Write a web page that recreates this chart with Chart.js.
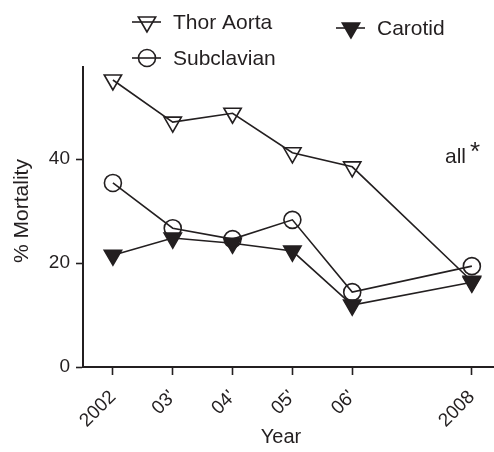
<!DOCTYPE html>
<html>
<head>
<meta charset="utf-8">
<script src="https://cdn.jsdelivr.net/npm/chart.js@4/dist/chart.umd.min.js"></script>
<style>
  html, body { margin: 0; padding: 0; background: #fff; }
  #chart { display: block; }
</style>
</head>
<body>
<canvas id="chart" width="494" height="452"></canvas>
<script>
// -------------------------------
// Data
// -------------------------------
const years = [2002, 2003, 2004, 2005, 2006, 2008];
const yearLabels = ["2002", "03'", "04'", "05'", "06'", "2008"];
const thorAorta = [55.2, 47.1, 48.8, 41.2, 38.5, 16.5];
const subclavian = [35.4, 26.7, 24.6, 28.3, 14.4, 19.4];
const carotid = [21.5, 24.8, 23.8, 22.3, 11.9, 16.3];
const yTicks = [0, 20, 40];

const ink = "#231f20";
const font = "Liberation Sans, Arial, Helvetica, sans-serif";

function points(values) {
  return values.map((v, i) => ({ x: years[i], y: v }));
}

// marker styles per series
const styles = {
  thor: { pointStyle: "triangle", rotation: 180, radius: 10, fill: "transparent" },
  sub: { pointStyle: "circle", rotation: 0, radius: 8.5, fill: "transparent" },
  car: { pointStyle: "triangle", rotation: 180, radius: 10, fill: ink },
};

function series(label, values, s) {
  return {
    label: label,
    data: points(values),
    borderColor: ink,
    borderWidth: 1.6,
    backgroundColor: s.fill,
    pointStyle: s.pointStyle,
    pointRotation: s.rotation,
    pointRadius: s.radius,
    pointHoverRadius: s.radius,
    pointBorderColor: ink,
    pointBackgroundColor: s.fill,
    pointBorderWidth: 1.6,
    tension: 0,
    fill: false,
    clip: false,
  };
}

// -------------------------------
// Legend, axis titles and note
// -------------------------------
const extras = {
  id: "extras",
  afterDraw(chart) {
    const ctx = chart.ctx;
    ctx.save();
    ctx.fillStyle = ink;
    ctx.strokeStyle = ink;

    const legend = [
      { text: "Thor Aorta", x: 147, y: 22, s: styles.thor },
      { text: "Subclavian", x: 147, y: 58, s: styles.sub },
      { text: "Carotid", x: 351, y: 28, s: styles.car },
    ];
    legend.forEach((item) => {
      ctx.lineWidth = 1.6;
      ctx.beginPath();
      ctx.moveTo(item.x - 15, item.y);
      ctx.lineTo(item.x + 14, item.y);
      ctx.stroke();
      ctx.fillStyle = item.s.fill === "transparent" ? "rgba(0,0,0,0)" : item.s.fill;
      Chart.helpers.drawPoint(ctx, {
        pointStyle: item.s.pointStyle,
        rotation: item.s.rotation,
        radius: item.s.radius,
        borderWidth: 1.6,
      }, item.x, item.y);
      ctx.fillStyle = ink;
      ctx.font = "21px " + font;
      ctx.textAlign = "left";
      ctx.textBaseline = "middle";
      ctx.fillText(item.text, item.x + 26, item.y + 1);
    });

    // axis titles
    ctx.font = "20px " + font;
    ctx.textAlign = "center";
    ctx.textBaseline = "middle";
    ctx.fillText("Year", 281, 437);
    ctx.save();
    ctx.translate(22, 211);
    ctx.rotate(-Math.PI / 2);
    ctx.font = "21px " + font;
    ctx.fillText("% Mortality", 0, 0);
    ctx.restore();

    // significance note
    ctx.textAlign = "left";
    ctx.textBaseline = "alphabetic";
    ctx.font = "21px " + font;
    ctx.fillText("all", 445, 163);
    ctx.font = "26px " + font;
    ctx.fillText("*", 470, 160);
    ctx.restore();
  },
};

// -------------------------------
// Chart
// -------------------------------
new Chart(document.getElementById("chart").getContext("2d"), {
  type: "line",
  data: {
    datasets: [
      series("Thor Aorta", thorAorta, styles.thor),
      series("Subclavian", subclavian, styles.sub),
      series("Carotid", carotid, styles.car),
    ],
  },
  options: {
    responsive: false,
    animation: false,
    devicePixelRatio: 1,
    layout: { autoPadding: false, padding: { top: 67, left: 0, right: 0, bottom: 0 } },
    plugins: { legend: { display: false }, tooltip: { enabled: false } },
    scales: {
      x: {
        type: "linear",
        min: 2001.5,
        max: 2008.37,
        afterFit: (scale) => {
          scale.height = 85;
          scale.paddingLeft = 0;
          scale.paddingRight = 0;
        },
        afterBuildTicks: (scale) => { scale.ticks = years.map((v) => ({ value: v })); },
        grid: { drawOnChartArea: false, drawTicks: true, tickLength: 8, tickColor: ink, tickWidth: 1.6 },
        border: { color: ink, width: 2 },
        ticks: {
          color: ink,
          font: { family: font, size: 19 },
          minRotation: 45,
          maxRotation: 45,
          padding: 11,
          callback: (v) => yearLabels[years.indexOf(v)],
        },
      },
      y: {
        min: 0,
        max: 57.7,
        afterFit: (scale) => {
          scale.width = 83;
          scale.paddingTop = 0;
          scale.paddingBottom = 0;
        },
        afterBuildTicks: (scale) => { scale.ticks = yTicks.map((v) => ({ value: v })); },
        grid: { drawOnChartArea: false, drawTicks: true, tickLength: 7, tickColor: ink, tickWidth: 1.6 },
        border: { color: ink, width: 2 },
        ticks: {
          color: ink,
          font: { family: font, size: 19 },
          padding: 6,
        },
      },
    },
  },
  plugins: [extras],
});
</script>
</body>
</html>
